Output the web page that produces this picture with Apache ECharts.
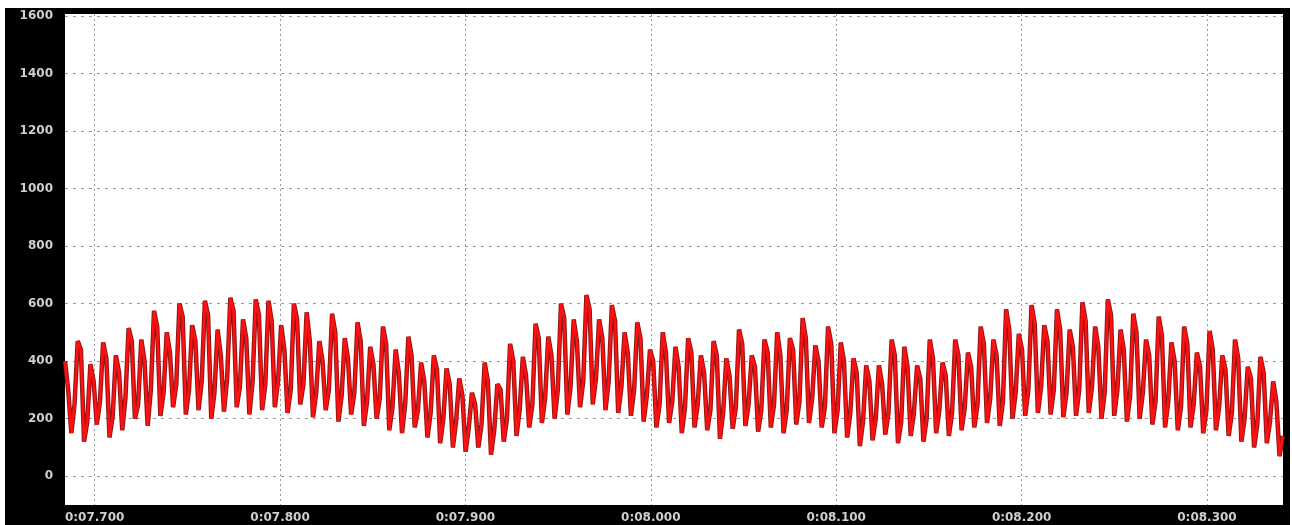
<!DOCTYPE html>
<html>
<head>
<meta charset="utf-8">
<script src="https://cdn.jsdelivr.net/npm/echarts@6/dist/echarts.min.js"></script>
<style>
  html, body { margin: 0; padding: 0; background: #ffffff; }
  #frame { position: absolute; left: 5px; top: 8px; width: 1285px; height: 517px; background: #000000; }
  #chart { position: absolute; left: 0; top: 0; width: 1292px; height: 525px; }
</style>
</head>
<body>
<div id="frame"></div>
<div id="chart"></div>
<script>
const peaks = [
  400, 470, 390, 465, 420, 515, 475, 575, 500, 600, 525, 610, 510, 620, 545, 615,
  610, 525, 600, 570, 470, 565, 480, 535, 450, 520, 440, 485, 395, 420, 375, 340,
  290, 395, 320, 460, 415, 530, 485, 600, 545, 630, 545, 595, 500, 535, 440, 500,
  450, 480, 420, 470, 410, 510, 420, 475, 500, 480, 550, 455, 520, 465, 410, 385,
  385, 475, 450, 385, 475, 395, 475, 430, 520, 475, 580, 495, 595, 525, 580, 510,
  605, 520, 615, 510, 565, 475, 555, 465, 520, 430, 505, 420, 475, 380, 415, 330
];
const peaks2 = [
  300, 440, 330, 410, 360, 470, 400, 520, 430, 555, 470, 560, 420, 575, 480, 560,
  540, 440, 545, 470, 400, 500, 410, 470, 390, 460, 360, 420, 330, 370, 320, 280,
  250, 330, 300, 400, 350, 480, 420, 550, 470, 580, 480, 540, 430, 480, 400, 430,
  380, 430, 360, 420, 350, 460, 380, 430, 420, 440, 480, 400, 460, 400, 360, 330,
  320, 420, 380, 340, 410, 350, 420, 380, 460, 420, 510, 440, 530, 470, 510, 450,
  540, 450, 560, 440, 500, 420, 490, 400, 460, 380, 440, 370, 410, 340, 360, 260
];
const troughs = [
  150, 120, 180, 135, 160, 200, 175, 210, 240, 215, 230, 200, 225, 240, 215, 230,
  240, 220, 250, 205, 230, 190, 215, 175, 200, 160, 150, 170, 135, 115, 100, 85,
  100, 75, 120, 140, 170, 185, 200, 215, 240, 250, 230, 220, 210, 190, 170, 185,
  150, 170, 160, 130, 165, 175, 155, 170, 150, 180, 185, 170, 150, 135, 105, 125,
  145, 115, 140, 120, 150, 140, 160, 170, 185, 175, 200, 210, 220, 215, 205, 210,
  220, 200, 210, 190, 200, 180, 170, 160, 170, 150, 160, 140, 120, 100, 115, 70
];
const troughs2 = [
  250, 190, 260, 210, 270, 250, 300, 290, 320, 300, 330, 290, 340, 310, 330, 320,
  330, 300, 320, 290, 300, 280, 290, 260, 270, 240, 250, 230, 220, 200, 190, 170,
  180, 160, 200, 230, 250, 270, 300, 310, 330, 340, 330, 310, 300, 280, 250, 260,
  240, 250, 230, 220, 240, 250, 230, 250, 230, 260, 270, 240, 230, 220, 190, 200,
  220, 190, 220, 200, 230, 220, 240, 250, 270, 260, 290, 300, 310, 300, 290, 300,
  310, 290, 300, 280, 290, 260, 260, 240, 250, 230, 240, 220, 200, 180, 190, 140
];
const sampleStart = 7.684;    // seconds
const sampleStep = 0.001715;  // seconds between samples
const xMin = 7.684, xMax = 8.341;
const yMin = -100, yMax = 1607;
const xTicks = [7.7, 7.8, 7.9, 8.0, 8.1, 8.2, 8.3];
const yTicks = [0, 200, 400, 600, 800, 1000, 1200, 1400, 1600];

const data = [];
for (let i = 0; i < peaks.length; i++) {
  const cyc = [peaks[i], peaks2[i], troughs[i], troughs2[i]];
  for (let k = 0; k < 4; k++) {
    data.push([sampleStart + (4 * i + k) * sampleStep, cyc[k]]);
  }
}

function fmtTime(v) {
  const m = Math.floor(v / 60);
  const s = v - m * 60;
  let str = s.toFixed(3);
  if (s < 10) str = '0' + str;
  return m + ':' + str;
}

const labelFont = { color: '#cfcfcf', fontSize: 12, fontWeight: 'bold', fontFamily: 'DejaVu Sans, sans-serif' };

const chart = echarts.init(document.getElementById('chart'), null, { renderer: 'canvas' });
chart.setOption({
  backgroundColor: 'transparent',
  animation: false,
  grid: { left: 65, right: 9, top: 14, bottom: 20, show: true, backgroundColor: '#ffffff', borderWidth: 0 },
  xAxis: {
    type: 'value', min: xMin, max: xMax,
    axisLine: { show: false },
    axisTick: { show: false, customValues: xTicks },
    axisLabel: Object.assign({ customValues: xTicks, margin: 7, formatter: fmtTime }, labelFont),
    splitLine: { show: true, lineStyle: { color: '#9a9a9a', type: [2, 3], width: 1 } }
  },
  yAxis: {
    type: 'value', min: yMin, max: yMax,
    axisLine: { show: false },
    axisTick: { show: false, customValues: yTicks },
    axisLabel: Object.assign({ customValues: yTicks, margin: 12, formatter: function (v) { return String(v); } }, labelFont),
    splitLine: { show: true, lineStyle: { color: '#9a9a9a', type: [3, 5], width: 1 } }
  },
  series: [
    { type: 'line', data: data, symbol: 'none', lineStyle: { color: '#8a1616', width: 4.5 }, z: 2 },
    { type: 'line', data: data, symbol: 'none', lineStyle: { color: '#ff1010', width: 2.6 }, z: 3 }
  ]
});
</script>
</body>
</html>
